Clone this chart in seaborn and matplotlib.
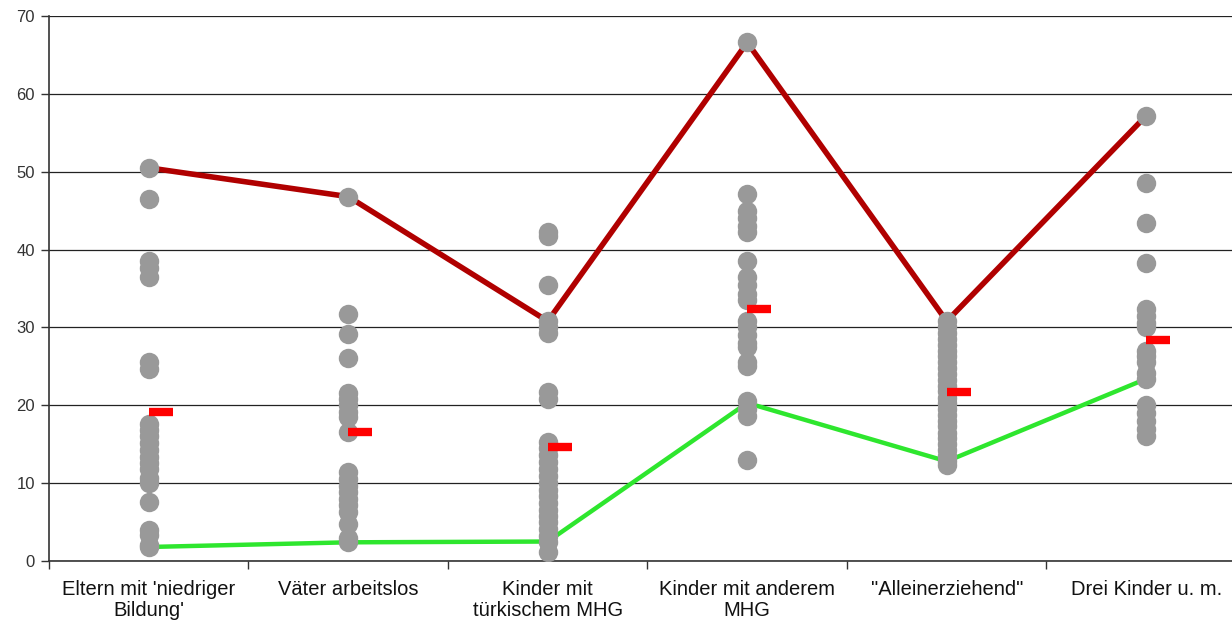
import numpy as np
import pandas as pd
import seaborn as sns
import matplotlib.pyplot as plt
from matplotlib.ticker import FixedLocator

# Kategorien
categories = [
    "Eltern mit 'niedriger\nBildung'",
    "Väter arbeitslos",
    "Kinder mit\ntürkischem MHG",
    "Kinder mit anderem\nMHG",
    "\"Alleinerziehend\"",
    "Drei Kinder u. m.",
]

# Einzelwerte (graue Punkte) je Kategorie
vals_bildung = [50.5, 46.5, 38.5, 37.6, 36.5, 25.5, 24.6, 17.6, 16.8, 16.0, 15.2,
                14.3, 13.4, 12.6, 11.8, 10.6, 10.0, 7.6, 4.0, 3.3, 2.0, 1.8]
vals_vaeter = [46.8, 31.7, 29.1, 26.1, 21.6, 20.8, 20.0, 19.1, 18.5, 16.6,
               11.4, 10.5, 9.6, 8.8, 8.0, 7.2, 6.3, 4.8, 3.0, 2.5]
vals_tuerk = [42.2, 41.8, 35.4, 30.8, 30.0, 29.3, 21.7, 20.8, 15.3, 14.5, 13.6,
              12.7, 11.8, 10.9, 10.0, 9.1, 8.3, 7.5, 6.6, 5.8, 5.0, 4.1, 3.2,
              2.5, 1.2]
vals_andere = [66.6, 47.2, 45.0, 44.0, 43.0, 42.3, 38.5, 36.5, 35.5, 34.3, 33.5,
               30.8, 30.0, 29.0, 28.0, 27.5, 25.5, 25.0, 20.5, 19.5, 18.6, 13.0]
vals_allein = [30.8, 30.0, 29.3, 28.5, 27.8, 27.0, 26.3, 25.5, 24.8, 24.0, 23.3,
               22.5, 21.8, 21.0, 20.3, 19.5, 18.8, 18.0, 17.3, 16.5, 15.8, 15.0,
               14.3, 13.5, 12.8, 12.3]
vals_drei = [57.2, 48.6, 43.4, 38.3, 32.4, 31.5, 30.6, 30.0, 27.0, 26.3, 25.5,
             24.2, 23.4, 20.0, 19.0, 18.0, 17.0, 16.0]

# Linien und Mittelwerte
max_line = [50.5, 46.8, 30.8, 66.6, 30.8, 57.2]
min_line = [1.8, 2.4, 2.5, 20.3, 12.8, 23.4]
mean_vals = [19.1, 16.6, 14.6, 32.4, 21.7, 28.4]

all_vals = [vals_bildung, vals_vaeter, vals_tuerk, vals_andere, vals_allein, vals_drei]
df = pd.DataFrame({
    "kat": [c for c, v in zip(categories, all_vals) for _ in v],
    "wert": [x for v in all_vals for x in v],
})

sns.set_style("white")
plt.rcParams["font.family"] = ["Liberation Sans", "DejaVu Sans"]

fig = plt.figure(figsize=(12.32, 6.24), dpi=100)
ax = fig.add_axes([49 / 1232, 63 / 624, 1197 / 1232, 545 / 624])

pos = np.arange(len(categories))
sns.lineplot(x=pos, y=max_line, color="#b00000", linewidth=4, ax=ax, zorder=3)
sns.lineplot(x=pos, y=min_line, color="#2ee62e", linewidth=3.2, ax=ax, zorder=3)
sns.stripplot(data=df, x="kat", y="wert", order=categories, jitter=False,
              color="#999999", size=14, linewidth=0, ax=ax, zorder=4)
sns.scatterplot(x=pos + 0.06, y=mean_vals, marker="_", s=290, linewidth=6,
                color="#ff0000", ax=ax, zorder=5)

ax.set_xlim(-0.5, len(categories) - 0.5)
ax.set_ylim(0, 70)
ax.set_yticks(range(0, 71, 10))
ax.set_xticks(pos)
ax.set_xticklabels(categories, fontsize=14.5, color="#111111", linespacing=1.12)
ax.xaxis.set_minor_locator(FixedLocator(np.arange(-0.5, len(categories), 1.0)))
ax.tick_params(axis="x", which="major", length=0, pad=14)
ax.tick_params(axis="x", which="minor", length=6, width=1, color="#333333",
               direction="out", bottom=True)
ax.tick_params(axis="y", length=6, width=1, color="#333333", direction="out",
               left=True, labelsize=12, labelcolor="#333333", pad=4)
ax.yaxis.grid(True, color="#222222", linewidth=0.9)
ax.set_axisbelow(True)
ax.set_xlabel("")
ax.set_ylabel("")
for side in ["top", "right"]:
    ax.spines[side].set_visible(False)
for side in ["left", "bottom"]:
    ax.spines[side].set_color("#333333")
    ax.spines[side].set_linewidth(1.2)

fig.savefig("out.png", dpi=100)
